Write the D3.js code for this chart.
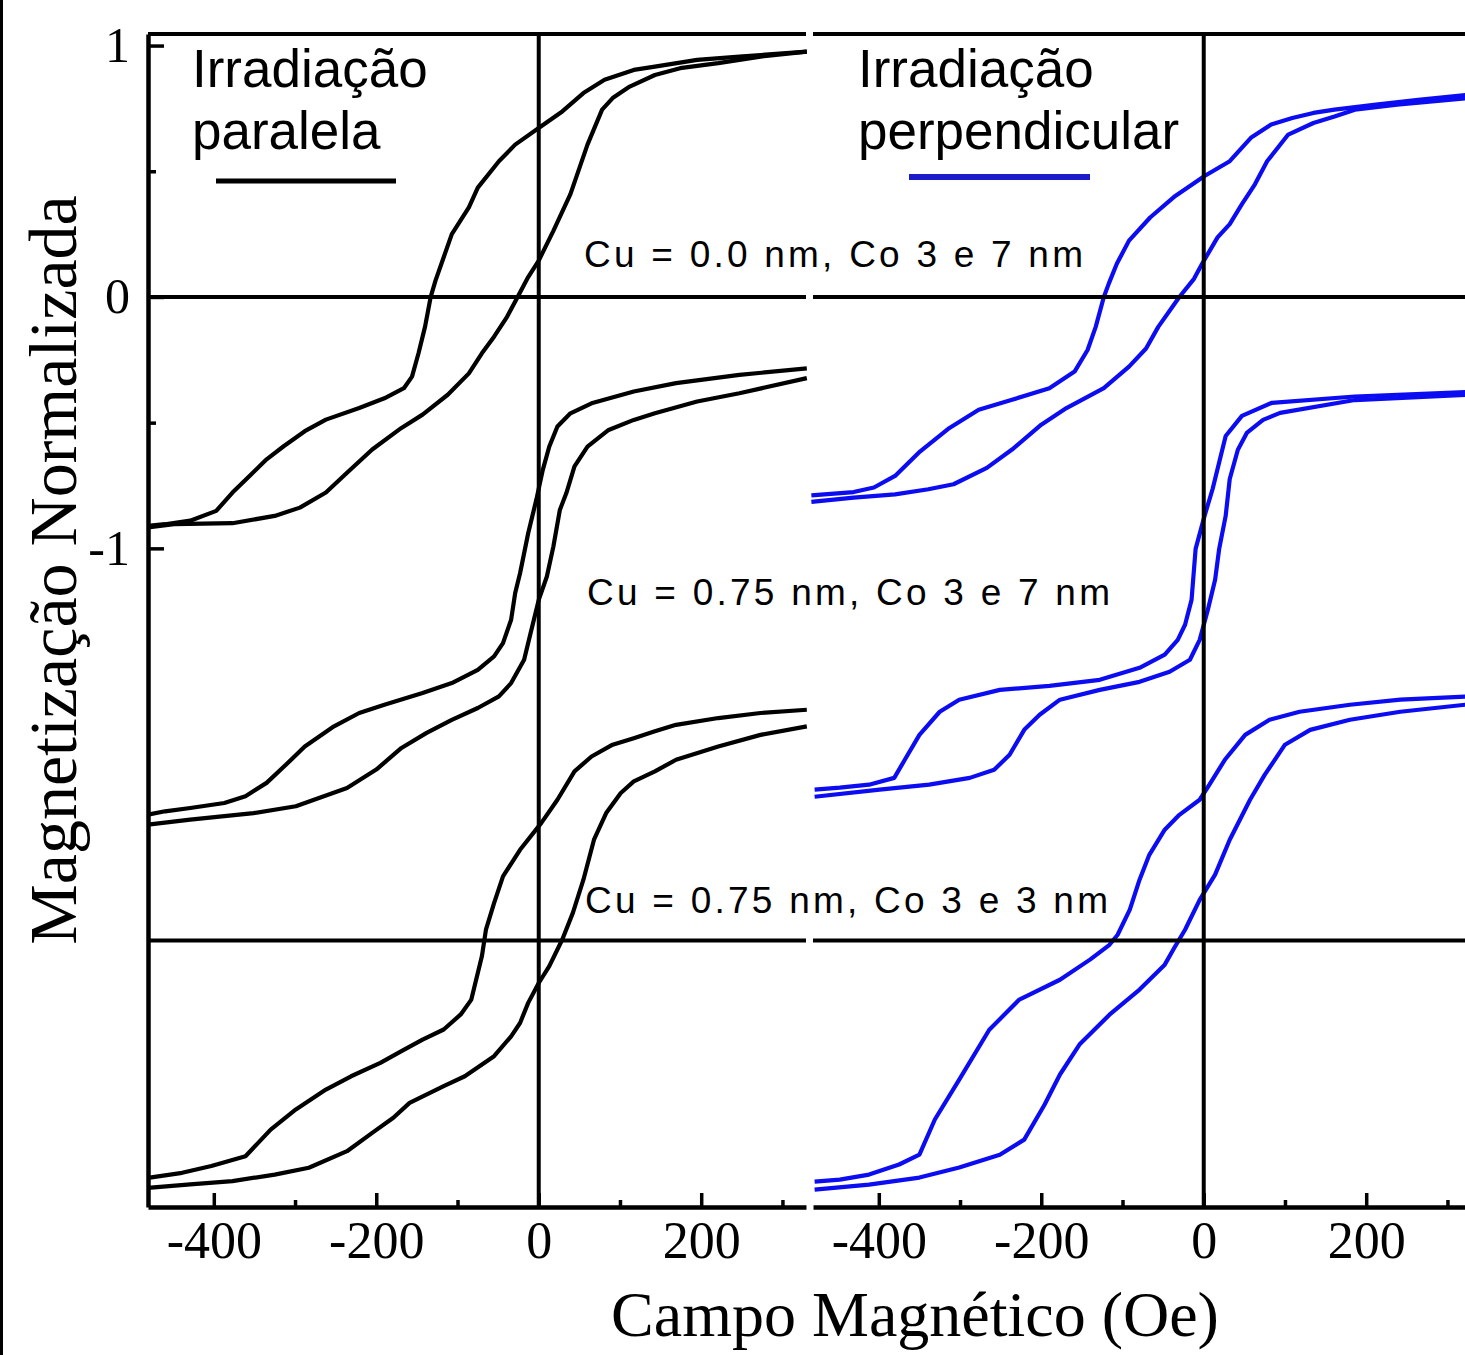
<!DOCTYPE html>
<html>
<head>
<meta charset="utf-8">
<script src="https://cdn.jsdelivr.net/npm/d3@7"></script>
<style>
body { margin: 0; background: #fff; }
</style>
</head>
<body>
<script>
// hysteresis loops: [field (Oe), normalized magnetization], loops shifted down so they don't overlap
// left panel = irradiacao paralela (black)
var par_cu0_co37_dn = [[330,0.976],[247,0.956],[195,0.943],[143,0.916],[117,0.903],[81,0.864],[55,0.811],[29,0.738],[3,0.679],[-29,0.606],[-49,0.540],[-75,0.435],[-86,0.356],[-107,0.250],[-117,0.158],[-127,0.066],[-133,0.000],[-140,-0.119],[-148,-0.224],[-156,-0.317],[-166,-0.363],[-190,-0.403],[-221,-0.442],[-262,-0.488],[-288,-0.534],[-314,-0.594],[-335,-0.646],[-356,-0.712],[-377,-0.778],[-397,-0.851],[-429,-0.890],[-460,-0.904],[-481,-0.910]];
var par_cu0_co37_up = [[-481,-0.917],[-449,-0.904],[-377,-0.900],[-325,-0.871],[-294,-0.838],[-262,-0.778],[-236,-0.699],[-205,-0.607],[-169,-0.521],[-143,-0.468],[-112,-0.389],[-86,-0.304],[-70,-0.224],[-55,-0.158],[-39,-0.079],[-26,0.000],[-13,0.079],[0,0.145],[18,0.263],[39,0.409],[60,0.606],[78,0.745],[91,0.791],[112,0.837],[143,0.883],[174,0.910],[221,0.930],[273,0.956],[330,0.976]];
var par_cu075_co37_dn = [[330,-0.284],[247,-0.310],[169,-0.343],[117,-0.376],[65,-0.423],[39,-0.463],[23,-0.515],[13,-0.595],[5,-0.688],[-3,-0.807],[-13,-0.940],[-23,-1.099],[-29,-1.178],[-34,-1.284],[-44,-1.377],[-55,-1.430],[-75,-1.483],[-107,-1.536],[-143,-1.575],[-190,-1.622],[-221,-1.655],[-252,-1.708],[-288,-1.788],[-309,-1.854],[-335,-1.933],[-361,-1.986],[-387,-2.013],[-429,-2.033],[-460,-2.046],[-481,-2.059]];
var par_cu075_co37_up = [[-481,-2.099],[-429,-2.079],[-351,-2.053],[-299,-2.026],[-236,-1.953],[-200,-1.880],[-169,-1.794],[-138,-1.734],[-107,-1.682],[-75,-1.635],[-49,-1.589],[-34,-1.536],[-18,-1.443],[-10,-1.337],[0,-1.205],[10,-1.112],[18,-0.993],[26,-0.847],[34,-0.780],[44,-0.674],[60,-0.595],[86,-0.529],[117,-0.489],[143,-0.463],[195,-0.416],[247,-0.383],[330,-0.323]];
var par_cu075_co33_dn = [[330,-1.642],[273,-1.655],[221,-1.675],[169,-1.702],[143,-1.728],[117,-1.755],[91,-1.781],[65,-1.828],[44,-1.887],[23,-2.000],[3,-2.093],[-23,-2.199],[-44,-2.305],[-55,-2.411],[-65,-2.517],[-70,-2.623],[-83,-2.795],[-96,-2.854],[-117,-2.914],[-143,-2.954],[-169,-3.000],[-195,-3.047],[-231,-3.100],[-262,-3.153],[-299,-3.232],[-330,-3.312],[-361,-3.418],[-403,-3.457],[-439,-3.484],[-481,-3.504]];
var par_cu075_co33_up = [[-481,-3.544],[-429,-3.530],[-377,-3.517],[-325,-3.491],[-283,-3.464],[-236,-3.398],[-205,-3.325],[-179,-3.265],[-159,-3.206],[-117,-3.139],[-91,-3.100],[-55,-3.020],[-34,-2.941],[-23,-2.888],[-13,-2.808],[0,-2.729],[13,-2.662],[29,-2.556],[42,-2.450],[55,-2.318],[68,-2.159],[83,-2.053],[101,-1.973],[117,-1.927],[143,-1.887],[169,-1.841],[221,-1.788],[273,-1.742],[330,-1.708]];

// right panel = irradiacao perpendicular (blue)
var perp_cu0_co37_dn = [[324,0.804],[264,0.784],[212,0.765],[161,0.745],[135,0.732],[109,0.712],[83,0.686],[58,0.633],[32,0.540],[1,0.481],[-35,0.402],[-66,0.316],[-92,0.224],[-107,0.132],[-117,0.052],[-123,0.000],[-133,-0.119],[-143,-0.211],[-159,-0.297],[-190,-0.363],[-236,-0.409],[-277,-0.449],[-313,-0.521],[-349,-0.614],[-380,-0.712],[-406,-0.758],[-431,-0.776],[-483,-0.789]];
var perp_cu0_co37_up = [[-483,-0.815],[-431,-0.798],[-380,-0.785],[-339,-0.765],[-308,-0.745],[-267,-0.680],[-236,-0.607],[-200,-0.508],[-169,-0.442],[-123,-0.363],[-92,-0.277],[-71,-0.205],[-56,-0.119],[-30,0.000],[-12,0.072],[-2,0.132],[17,0.237],[32,0.290],[47,0.369],[63,0.448],[78,0.540],[104,0.646],[135,0.692],[161,0.718],[186,0.745],[238,0.765],[324,0.791]];
var perp_cu075_co37_dn = [[322,-0.378],[186,-0.396],[84,-0.421],[47,-0.473],[27,-0.553],[11,-0.763],[1,-0.871],[-10,-1.002],[-15,-1.205],[-23,-1.304],[-32,-1.364],[-48,-1.423],[-79,-1.475],[-128,-1.523],[-190,-1.547],[-251,-1.563],[-301,-1.602],[-325,-1.650],[-350,-1.742],[-368,-1.841],[-381,-1.913],[-412,-1.940],[-448,-1.952],[-479,-1.960]];
var perp_cu075_co37_up = [[-479,-1.988],[-399,-1.960],[-338,-1.940],[-288,-1.913],[-258,-1.881],[-239,-1.821],[-221,-1.722],[-202,-1.662],[-177,-1.602],[-128,-1.563],[-79,-1.531],[-42,-1.491],[-17,-1.443],[-5,-1.364],[5,-1.245],[14,-1.125],[19,-1.002],[27,-0.871],[32,-0.724],[42,-0.608],[53,-0.541],[73,-0.489],[94,-0.461],[186,-0.410],[322,-0.390]];
var perp_cu075_co33_dn = [[322,-1.590],[242,-1.602],[180,-1.622],[118,-1.650],[81,-1.682],[51,-1.742],[26,-1.841],[7,-1.940],[-5,-2.000],[-30,-2.060],[-48,-2.119],[-67,-2.219],[-79,-2.318],[-91,-2.437],[-106,-2.537],[-116,-2.577],[-140,-2.636],[-177,-2.716],[-227,-2.795],[-264,-2.915],[-301,-3.113],[-331,-3.272],[-350,-3.412],[-375,-3.451],[-412,-3.491],[-448,-3.511],[-479,-3.519]];
var perp_cu075_co33_up = [[-479,-3.551],[-412,-3.531],[-350,-3.503],[-301,-3.463],[-251,-3.412],[-221,-3.352],[-196,-3.213],[-177,-3.093],[-153,-2.974],[-116,-2.855],[-79,-2.755],[-48,-2.656],[-36,-2.588],[-23,-2.517],[-5,-2.398],[14,-2.298],[32,-2.159],[57,-2.000],[75,-1.901],[100,-1.781],[131,-1.722],[180,-1.682],[242,-1.650],[322,-1.622]];

var fieldDomain = [-481, 329];
var magDomain = [1.046, -3.62];
var majorFieldTicks = [-400, -200, 0, 200];
var minorFieldTicks = [-300, -100, 100, 300];
var majorMagTicks = [1, 0, -1];
var minorMagTicks = [0.5, -0.5];
var zeroLevels = [0, -2.56];   // the horizontal guide lines
var sampleLabels = ["Cu = 0.0 nm, Co 3 e 7 nm", "Cu = 0.75 nm, Co 3 e 7 nm", "Cu = 0.75 nm, Co 3 e 3 nm"];

var width = 1465, height = 1355;
var serif = "'Liberation Serif', 'Times New Roman', serif";
var sans = "'Liberation Sans', Arial, sans-serif";

var svg = d3.select("body").append("svg")
  .attr("width", width)
  .attr("height", height);

// thin border on the far left of the picture
svg.append("line").attr("x1", 1.5).attr("x2", 1.5).attr("y1", 0).attr("y2", height)
  .attr("stroke", "#000").attr("stroke-width", 3);

var y = d3.scaleLinear().domain(magDomain).range([34, 1207]);

var panels = [
  {x: d3.scaleLinear().domain(fieldDomain).range([148, 806]), color: "#000",
   loops: [par_cu0_co37_dn, par_cu0_co37_up, par_cu075_co37_dn, par_cu075_co37_up, par_cu075_co33_dn, par_cu075_co33_up],
   title: ["Irradiação", "paralela"], yAxis: true},
  {x: d3.scaleLinear().domain(fieldDomain).range([813, 1471]), color: "#0c0cf2",
   loops: [perp_cu0_co37_dn, perp_cu0_co37_up, perp_cu075_co37_dn, perp_cu075_co37_up, perp_cu075_co33_dn, perp_cu075_co33_up],
   title: ["Irradiação", "perpendicular"], yAxis: false}
];

panels.forEach(function(p, k){
  var x = p.x;
  var g = svg.append("g");
  var line = d3.line().x(function(d){ return x(d[0]); }).y(function(d){ return y(d[1]); });

  // the loops
  g.selectAll("path.loop").data(p.loops).enter().append("path")
    .attr("class", "loop")
    .attr("d", line)
    .attr("fill", "none")
    .attr("stroke", p.color)
    .attr("stroke-width", 4.2)
    .attr("stroke-linejoin", "round");

  // horizontal guides and top frame
  g.selectAll("line.h").data(zeroLevels.concat([magDomain[0]])).enter().append("line")
    .attr("class", "h")
    .attr("x1", x.range()[0]).attr("x2", Math.min(x.range()[1], width))
    .attr("y1", function(d){ return y(d); }).attr("y2", function(d){ return y(d); })
    .attr("stroke", "#000").attr("stroke-width", 4);

  // vertical line at zero field
  g.append("line")
    .attr("x1", x(0)).attr("x2", x(0))
    .attr("y1", y(magDomain[0])).attr("y2", y(magDomain[1]))
    .attr("stroke", "#000").attr("stroke-width", 4);

  // bottom axis, ticks pointing inwards
  var ax = g.append("g").attr("transform", "translate(0," + y(magDomain[1]) + ")")
    .call(d3.axisBottom(x).tickValues(majorFieldTicks).tickSizeInner(-14).tickSizeOuter(0)
      .tickPadding(14).tickFormat(function(d){ return String(d); }));
  ax.select(".domain").attr("stroke-width", 4.5);
  ax.selectAll(".tick line").attr("stroke-width", 3.5);
  ax.selectAll("text").attr("font-family", serif).attr("font-size", 52).attr("fill", "#000");

  var axm = g.append("g").attr("transform", "translate(0," + y(magDomain[1]) + ")")
    .call(d3.axisBottom(x).tickValues(minorFieldTicks).tickSizeInner(-7).tickSizeOuter(0).tickFormat(""));
  axm.select(".domain").remove();
  axm.selectAll(".tick line").attr("stroke-width", 3.5);

  if (p.yAxis) {
    var ay = g.append("g").attr("transform", "translate(" + x.range()[0] + ",0)")
      .call(d3.axisLeft(y).tickValues(majorMagTicks).tickSizeInner(-16).tickSizeOuter(0)
        .tickPadding(18).tickFormat(function(d){ return String(d); }));
    ay.select(".domain").attr("stroke-width", 4.5);
    ay.selectAll(".tick line").attr("stroke-width", 3.5);
    ay.selectAll("text").attr("font-family", serif).attr("font-size", 50).attr("fill", "#000");
    var aym = g.append("g").attr("transform", "translate(" + x.range()[0] + ",0)")
      .call(d3.axisLeft(y).tickValues(minorMagTicks).tickSizeInner(-8).tickSizeOuter(0).tickFormat(""));
    aym.select(".domain").remove();
    aym.selectAll(".tick line").attr("stroke-width", 3.5);
  }

  // legend text + line sample
  var lx = k === 0 ? 192 : 858;
  g.append("text").attr("x", lx).attr("y", 87).text(p.title[0])
    .attr("font-family", sans).attr("font-size", 53).attr("fill", "#000");
  g.append("text").attr("x", lx).attr("y", 149).text(p.title[1])
    .attr("font-family", sans).attr("font-size", 53).attr("fill", "#000");
  g.append("line")
    .attr("x1", k === 0 ? 216 : 909).attr("x2", k === 0 ? 396 : 1090)
    .attr("y1", k === 0 ? 181 : 177).attr("y2", k === 0 ? 181 : 177)
    .attr("stroke", k === 0 ? "#000" : "#1c1cc8").attr("stroke-width", k === 0 ? 5 : 6);
});

// sample labels in the middle of the figure
var labelSpots = [{x: 584, y: 267, w: 499}, {x: 587, y: 605, w: 523}, {x: 585, y: 913, w: 523}];
svg.selectAll("text.sample").data(sampleLabels).enter().append("text")
  .attr("class", "sample")
  .attr("x", function(d, i){ return labelSpots[i].x; })
  .attr("y", function(d, i){ return labelSpots[i].y; })
  .attr("textLength", function(d, i){ return labelSpots[i].w; })
  .attr("lengthAdjust", "spacing")
  .attr("font-family", sans).attr("font-size", 37).attr("fill", "#000")
  .text(function(d){ return d; });

// axis titles
svg.append("text").attr("x", 915).attr("y", 1336).attr("text-anchor", "middle")
  .attr("font-family", serif).attr("font-size", 64).attr("fill", "#000")
  .text("Campo Magnético (Oe)");
svg.append("text").attr("transform", "translate(76,570) rotate(-90)").attr("text-anchor", "middle")
  .attr("font-family", serif).attr("font-size", 68).attr("fill", "#000")
  .text("Magnetização Normalizada");
</script>
</body>
</html>
